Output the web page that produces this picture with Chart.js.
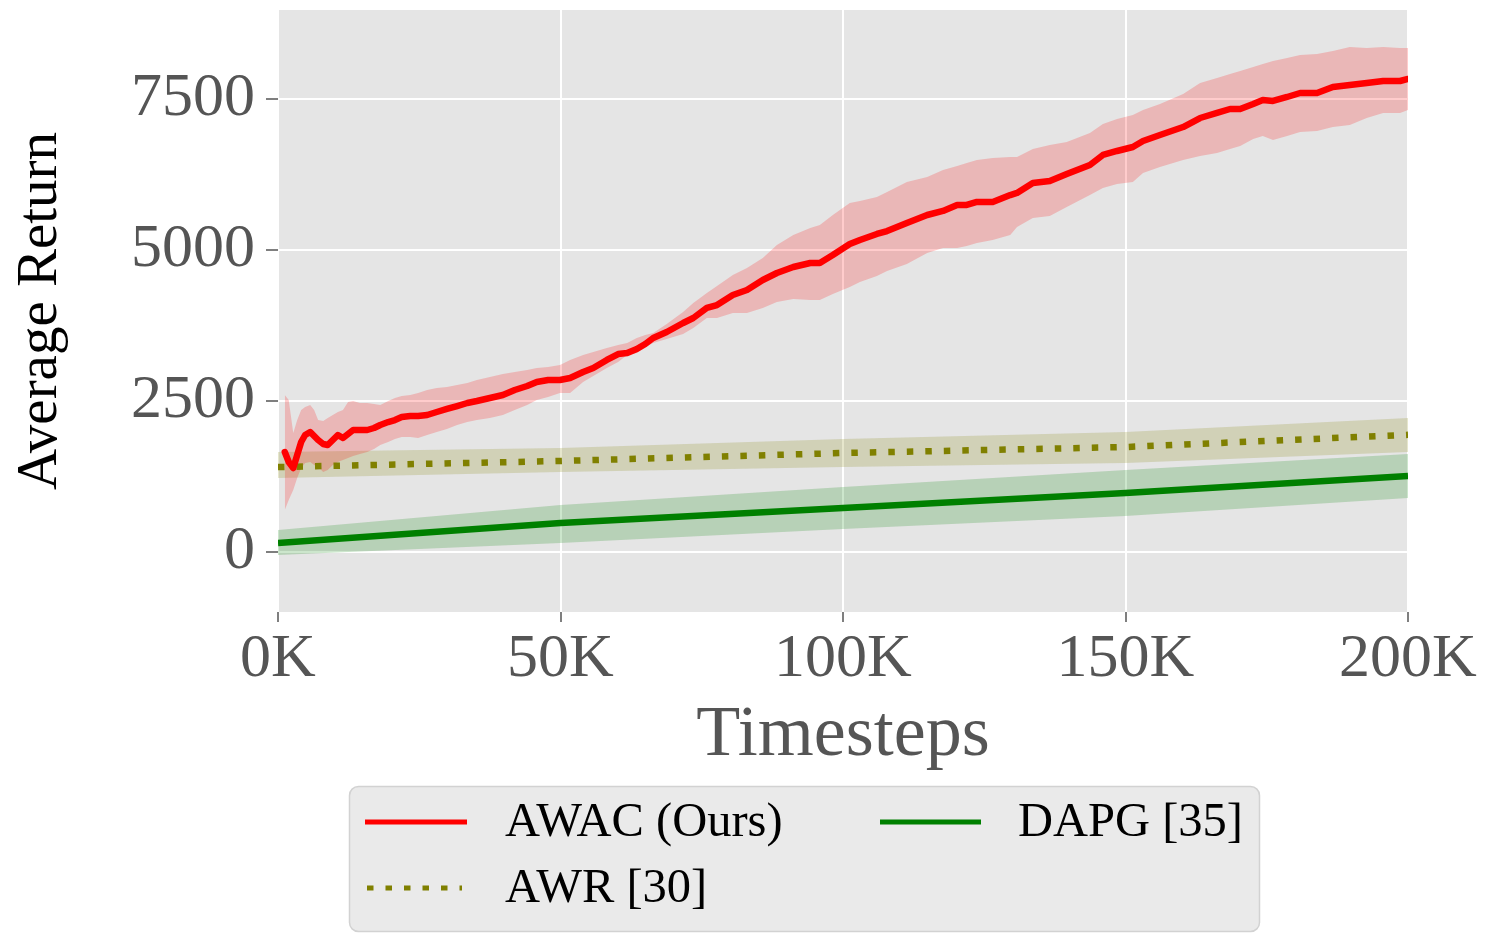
<!DOCTYPE html>
<html><head><meta charset="utf-8">
<script src="https://cdn.jsdelivr.net/npm/chart.js@4.4.1/dist/chart.umd.min.js"></script>
<style>html,body{margin:0;padding:0;background:#fff;overflow:hidden}#wrap{width:1487px;height:934px}</style>
</head><body><div id="wrap"><canvas id="c" width="1487" height="934"></canvas></div>
<script>
// ---- data (timesteps in thousands) ----
const awacSteps = [1.2,1.9,2.7,3.4,4.1,4.8,5.7,6.4,7.1,8.0,8.8,9.7,10.6,11.5,12.4,13.3,14.5,15.8,17.0,18.1,19.5,20.7,21.9,23.4,24.8,26.4,28.1,29.9,31.7,33.5,35.2,37.5,39.8,41.9,44.1,45.8,47.8,49.9,51.7,54.0,55.8,58.2,60.2,61.8,63.5,65.0,66.4,68.8,71.7,73.5,75.9,77.7,80.5,83.0,85.8,88.3,91.2,94.2,95.9,98.2,101.2,103.0,106.0,107.8,111.3,114.9,117.7,120.2,121.9,123.7,126.5,129.6,130.8,133.6,136.6,139.6,143.7,146.0,148.5,151.3,153.1,156.1,160.2,163.2,166.2,168.5,170.3,172.6,174.3,176.1,178.6,180.9,183.9,186.7,189.7,192.7,195.6,198.6,200.0];
const awacMean = [1656,1490,1391,1606,1821,1937,1987,1920,1854,1788,1771,1854,1937,1887,1954,2020,2020,2020,2053,2103,2152,2185,2235,2252,2252,2268,2318,2368,2417,2467,2500,2550,2599,2682,2748,2815,2848,2848,2881,2980,3046,3179,3278,3295,3361,3444,3543,3642,3791,3874,4040,4089,4255,4338,4503,4619,4718,4785,4785,4917,5099,5165,5265,5314,5447,5579,5646,5745,5745,5795,5795,5910,5944,6109,6142,6258,6407,6573,6639,6705,6805,6904,7036,7185,7268,7334,7334,7417,7483,7467,7533,7599,7599,7699,7732,7765,7798,7798,7831];
const awacUpper = [2599,2517,1970,2185,2351,2401,2434,2351,2185,2169,2219,2268,2318,2351,2483,2500,2467,2467,2450,2434,2500,2550,2583,2599,2632,2682,2715,2732,2765,2798,2848,2897,2947,2980,3013,3046,3063,3096,3179,3262,3311,3377,3427,3460,3543,3593,3626,3775,3973,4122,4288,4404,4586,4702,4867,5083,5248,5364,5414,5579,5778,5811,5877,5960,6126,6209,6324,6391,6440,6490,6523,6540,6540,6672,6738,6788,6937,7086,7169,7235,7318,7417,7583,7765,7848,7914,7963,8030,8079,8129,8179,8228,8245,8295,8361,8344,8361,8344,8344];
const awacLower = [695,861,1026,1225,1391,1473,1490,1440,1407,1324,1358,1440,1490,1523,1556,1589,1622,1656,1705,1771,1821,1871,1904,1904,1887,1937,1987,2036,2103,2152,2185,2219,2268,2351,2434,2517,2566,2632,2632,2815,2914,3046,3146,3262,3295,3394,3460,3526,3609,3709,3874,3874,3957,3957,4040,4139,4189,4172,4172,4271,4387,4470,4569,4652,4768,4950,5033,5033,5066,5116,5165,5248,5381,5530,5563,5712,5910,6026,6093,6126,6275,6374,6490,6556,6606,6672,6722,6838,6887,6821,6887,6954,6970,7036,7069,7185,7268,7268,7318];

const awrSteps = [0,50,100,150,200];
const awrMean  = [1407,1507,1639,1738,1940];
const awrUpper = [1656,1722,1871,1987,2218];
const awrLower = [1225,1324,1407,1474,1656];

const dapgSteps = [0,50,100,150,200];
const dapgMean  = [149,480,728,977,1258];
const dapgUpper = [364,778,1076,1358,1622];
const dapgLower = [-50,149,381,596,894];

const xTickValues = [0,50,100,150,200];
const yTickValues = [0,2500,5000,7500];
const seriesLabels = ['AWAC (Ours)','DAPG [35]','AWR [30]'];

// ---- helpers ----
const pts = (xs, ys) => xs.map((x,i)=>({x:x, y:ys[i]}));
const clear = 'rgba(0,0,0,0)';
function band(xs, up, lo, color){
  return [
    {data:pts(xs,up), borderColor:clear, borderWidth:0, pointRadius:0, fill:'+1', backgroundColor:color, isBand:true},
    {data:pts(xs,lo), borderColor:clear, borderWidth:0, pointRadius:0, fill:false, isBand:true}
  ];
}

const serif = "'Liberation Serif','Times New Roman',serif";

const bgPlugin = {
  id:'bgArea',
  beforeDraw(chart){
    const {ctx, chartArea:a} = chart;
    ctx.save(); ctx.fillStyle='#e5e5e5';
    ctx.fillRect(a.left, a.top, a.right-a.left, a.bottom-a.top);
    ctx.restore();
  }
};

const legendPlugin = {
  id:'customLegend',
  afterDraw(chart){
    const ctx = chart.ctx;
    ctx.save();
    ctx.beginPath();
    ctx.roundRect(349.5, 786.5, 910, 145, 9);
    ctx.fillStyle='rgba(229,229,229,0.8)';
    ctx.fill();
    ctx.strokeStyle='#d2d2d2'; ctx.lineWidth=1.5; ctx.stroke();
    const slots = [
      {x1:365, x2:467, tx:505, y:822},
      {x1:880, x2:981, tx:1018, y:822},
      {x1:367, x2:462, tx:505, y:888}
    ];
    const lines = chart.data.datasets.filter(d=>!d.isBand);
    lines.forEach((d,i)=>{
      const s = slots[i];
      ctx.beginPath();
      ctx.setLineDash(d.borderDash||[]);
      ctx.lineCap = 'butt';
      ctx.strokeStyle = d.borderColor;
      ctx.lineWidth = d.legendWidth;
      ctx.moveTo(s.x1, s.y); ctx.lineTo(s.x2, s.y); ctx.stroke();
      ctx.setLineDash([]);
      ctx.fillStyle='#000';
      ctx.font = "48.5px " + serif;
      ctx.textBaseline='middle'; ctx.textAlign='left';
      ctx.fillText(d.label, s.tx, s.y+1);
    });
    ctx.restore();
  }
};

const datasets = [
  {label:seriesLabels[0], data:pts(awacSteps,awacMean), borderColor:'#ff0000', borderWidth:6.5, legendWidth:5, pointRadius:0, fill:false, borderJoinStyle:'round', borderCapStyle:'round'},
  {label:seriesLabels[1], data:pts(dapgSteps,dapgMean), borderColor:'#008000', borderWidth:6.5, legendWidth:5, pointRadius:0, fill:false},
  {label:seriesLabels[2], data:pts(awrSteps,awrMean), borderColor:'#808000', borderWidth:6.5, legendWidth:5, borderDash:[6.5,12], pointRadius:0, fill:false},
  ...band(awacSteps, awacUpper, awacLower, 'rgba(255,0,0,0.2)'),
  ...band(awrSteps, awrUpper, awrLower, 'rgba(128,128,0,0.2)'),
  ...band(dapgSteps, dapgUpper, dapgLower, 'rgba(0,128,0,0.2)')
];

new Chart(document.getElementById('c'), {
  type:'line',
  data:{datasets},
  plugins:[bgPlugin, legendPlugin],
  options:{
    responsive:false, animation:false, devicePixelRatio:1,
    layout:{padding:{top:10,right:79,left:0,bottom:0}},
    plugins:{legend:{display:false}, tooltip:{enabled:false}, filler:{drawTime:'beforeDatasetsDraw', propagate:false}},
    scales:{
      x:{
        type:'linear', min:0, max:200,
        afterBuildTicks(s){ s.ticks = xTickValues.map(v=>({value:v})); },
        afterFit(s){ s.height = 322; s.paddingLeft = 0; s.paddingRight = 0; },
        ticks:{callback:v=>String(v)+'K', color:'#555555', font:{family:serif, size:62, lineHeight:1}, padding:7, maxRotation:0, autoSkip:false},
        grid:{color:'#ffffff', lineWidth:2, tickColor:'#555555', tickLength:10, tickWidth:1.5},
        border:{display:false},
        title:{display:true, text:'Timesteps', color:'#555555', font:{family:serif, size:72, lineHeight:1}, padding:{top:0,bottom:162}}
      },
      y:{
        type:'linear', min:-993, max:8973,
        afterBuildTicks(s){ s.ticks = yTickValues.map(v=>({value:v})); },
        afterFit(s){ s.width = 278; s.paddingTop = 0; s.paddingBottom = 0; },
        ticks:{callback:v=>String(v), color:'#555555', font:{family:serif, size:62, lineHeight:1}, padding:11, autoSkip:false},
        grid:{color:'#ffffff', lineWidth:2, tickColor:'#555555', tickLength:12, tickWidth:1.5},
        border:{display:false},
        title:{display:true, text:'Average Return', color:'#000000', font:{family:serif, size:57, lineHeight:1}, padding:{top:13,bottom:0}}
      }
    }
  }
});
</script>
</body></html>
